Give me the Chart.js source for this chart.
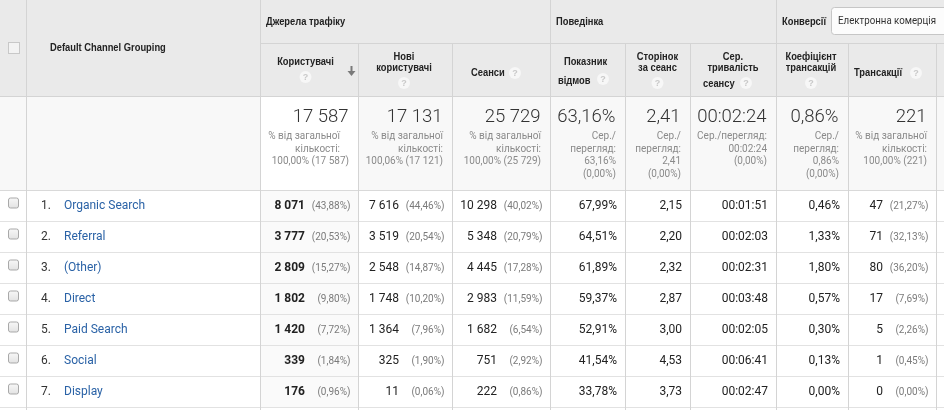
<!DOCTYPE html>
<html><head><meta charset="utf-8">
<script src="https://cdn.jsdelivr.net/npm/chart.js@4.4.1/dist/chart.umd.min.js"></script>
<style>html,body{margin:0;padding:0;background:#fff}#wrap{width:944px;height:410px;position:relative}</style>
</head><body><div id="wrap"><canvas id="c"></canvas></div>
<script>
// ---------- data ----------
const channels = ['Organic Search','Referral','(Other)','Direct','Paid Search','Social','Display'];
const users = [8071,3777,2809,1802,1420,339,176];
const usersPct = [43.88,20.53,15.27,9.80,7.72,1.84,0.96];
const newUsers = [7616,3519,2548,1748,1364,325,11];
const newUsersPct = [44.46,20.54,14.87,10.20,7.96,1.90,0.06];
const sessions = [10298,5348,4445,2983,1682,751,222];
const sessionsPct = [40.02,20.79,17.28,11.59,6.54,2.92,0.86];
const bounceRate = [67.99,64.51,61.89,59.37,52.91,41.54,33.78];
const pagesPerSession = [2.15,2.20,2.32,2.87,3.00,4.53,3.73];
const avgDurationSec = [111,123,151,228,125,401,167];
const txRate = [0.46,1.33,1.80,0.57,0.30,0.13,0.00];
const transactions = [47,71,80,17,5,1,0];
const transactionsPct = [21.27,32.13,36.20,7.69,2.26,0.45,0.00];

const totalUsers = 17587, totalNewUsers = 17131, totalSessions = 25729, totalTransactions = 221;
const totalBounce = 63.16, totalPages = 2.41, totalDurationSec = 144, totalTxRate = 0.86;
const totalSharePct = [100.00, 100.06, 100.00, 100.00];
const totalShareBase = [17587, 17121, 25729, 221];

const dimensionTitle = 'Default Channel Grouping';
const groupTitles = ['Джерела трафіку','Поведінка','Конверсії'];
const dropdownLabel = 'Електронна комерція';
const columnTitles = [['Користувачі'],['Нові','користувачі'],['Сеанси'],['Показник','відмов'],['Сторінок','за сеанс'],['Сер.','тривалість','сеансу'],['Коефіцієнт','трансакцій'],['Трансакції']];

// ---------- formatting ----------
const fInt = n => String(n).replace(/\B(?=(\d{3})+(?!\d))/g,' ');
const fDec = n => n.toFixed(2).replace('.',',');
const fPct = n => fDec(n)+'%';
const fDur = s => [Math.floor(s/3600),Math.floor(s%3600/60),s%60].map(v=>String(v).padStart(2,'0')).join(':');

// ---------- layout (column edges in x-scale units) ----------
const EDGES = [0,26,260,358,452,550,625,690,776,848,936,944];
const HEAD_FONT = 'bold 11px "Liberation Sans", Arial, sans-serif';
const HEAD_SQ = 0.85;
const RB = '"Roboto", "Liberation Sans", Arial, sans-serif';

function T(ctx,s,x,y,font,color,align,opt){
  opt = opt||{};
  ctx.font=font; ctx.fillStyle=color; ctx.textAlign=align||'left'; ctx.textBaseline='middle';
  if(opt.maxW){ ctx.fillText(s,x,y,opt.maxW); } else ctx.fillText(s,x,y);
}
function H(ctx,s,x,y,align){
  ctx.font=HEAD_FONT; const w=ctx.measureText(s).width*HEAD_SQ;
  let xl = x; if(align==='center') xl = x - w/2; else if(align==='right') xl = x - w;
  ctx.fillStyle='#222'; ctx.textAlign='left'; ctx.textBaseline='middle';
  ctx.fillText(s,xl,y,w);
}
function Q(ctx,x,y){
  ctx.beginPath(); ctx.arc(x,y,6,0,Math.PI*2); ctx.fillStyle='#f7f7f7'; ctx.fill();
  ctx.font='bold 9px Arial, sans-serif'; ctx.fillStyle='#c9c9c9'; ctx.textAlign='center'; ctx.textBaseline='middle';
  ctx.fillText('?',x,y+0.5);
}
function line(ctx,x1,y1,x2,y2,c){
  ctx.beginPath(); ctx.strokeStyle=c; ctx.lineWidth=1; ctx.moveTo(x1,y1); ctx.lineTo(x2,y2); ctx.stroke();
}

const tablePlugin = {
  id:'gaTable',
  afterDraw(chart){
    const ctx = chart.ctx, xs = chart.scales.x, ys = chart.scales.y;
    const X = v => Math.round(xs.getPixelForValue(v));
    const W = chart.width;
    const n = channels.length;
    const step = ys.height / n;
    const rowTop = i => ys.getPixelForValue(i) - step/2;
    const top = rowTop(0), bottom = rowTop(n-1)+step;
    ctx.save();
    // backgrounds
    ctx.fillStyle='#fff'; ctx.fillRect(0,0,W,chart.height);
    ctx.fillStyle='#eaeaea'; ctx.fillRect(0,0,W,96);
    ctx.fillStyle='#f8f8f8'; ctx.fillRect(0,96,W,top-96);
    ctx.fillStyle='#fff'; ctx.fillRect(X(EDGES[2]),96,X(EDGES[3])-X(EDGES[2]),top-96);
    ctx.fillStyle='#fafafa'; ctx.fillRect(X(EDGES[2]),top,X(EDGES[3])-X(EDGES[2]),bottom-top);

    // horizontal lines
    line(ctx,X(EDGES[2]),43.5,W,43.5,'#d4d4d4');
    line(ctx,0,96.5,W,96.5,'#d4d4d4');
    for(let i=0;i<=n;i++){ const y=Math.round(rowTop(i))+0.5; line(ctx,0,y,W,y,i===0?'#d9d9d9':'#e2e2e2'); }
    // vertical lines
    [1,2,5,8].forEach(k=>line(ctx,X(EDGES[k])+0.5,0,X(EDGES[k])+0.5,chart.height,'#d4d4d4'));
    [3,4,6,7,9,10].forEach(k=>line(ctx,X(EDGES[k])+0.5,43,X(EDGES[k])+0.5,chart.height,'#d4d4d4'));

    // header checkbox
    ctx.fillStyle='#f3f3f3'; ctx.fillRect(8.5,42.5,11,11); ctx.strokeStyle='#c8c8c8'; ctx.strokeRect(8.5,42.5,11,11);
    H(ctx,dimensionTitle,50,48,'left');
    // group titles
    H(ctx,groupTitles[0],X(EDGES[2])+6,22,'left');
    H(ctx,groupTitles[1],X(EDGES[5])+6,22,'left');
    H(ctx,groupTitles[2],X(EDGES[8])+6,22,'left');
    // dropdown
    ctx.beginPath(); ctx.roundRect(831.5,7.5,140,27,3); ctx.fillStyle='#fcfcfc'; ctx.fill(); ctx.strokeStyle='#c6c6c6'; ctx.stroke();
    T(ctx,dropdownLabel,838,21.5,'11.5px '+RB,'#333','left',{maxW:98});

    // sub headers
    const cx = k => (X(EDGES[k])+X(EDGES[k+1]))/2;
    const ct = columnTitles;
    H(ctx,ct[0][0],305.5,62,'center'); Q(ctx,305.5,77);
    // sort arrow
    ctx.fillStyle='#7a7a7a'; ctx.fillRect(350.5,66,2,6);
    ctx.beginPath(); ctx.moveTo(347.5,71); ctx.lineTo(355.5,71); ctx.lineTo(351.5,76); ctx.closePath(); ctx.fill();
    H(ctx,ct[1][0],cx(3)-1,57,'center'); H(ctx,ct[1][1],cx(3)-1,68,'center'); Q(ctx,cx(3)-1,83);
    H(ctx,ct[2][0],X(EDGES[4])+19,73,'left'); Q(ctx,X(EDGES[4])+63,73);
    H(ctx,ct[3][0],cx(5)-2,62,'center'); H(ctx,ct[3][1],X(EDGES[5])+8,81,'left'); Q(ctx,X(EDGES[5])+53,79);
    H(ctx,ct[4][0],cx(6),57,'center'); H(ctx,ct[4][1],cx(6),68,'center'); Q(ctx,cx(6),83);
    H(ctx,ct[5][0],cx(7),57,'center'); H(ctx,ct[5][1],cx(7),68,'center'); H(ctx,ct[5][2],X(EDGES[7])+13,84,'left'); Q(ctx,X(EDGES[7])+56,83);
    H(ctx,ct[6][0],cx(8)-1,57,'center'); H(ctx,ct[6][1],cx(8)-1,68,'center'); Q(ctx,cx(8)-1,83);
    H(ctx,ct[7][0],X(EDGES[9])+6,73,'left'); Q(ctx,X(EDGES[9])+68,73);

    // totals row
    const big = '300 18.5px '+RB, small = '10px '+RB, grey='#8a8a8a';
    const subY = [136.5,149,161.8,174.5];
    const totalsBig = [fInt(totalUsers),fInt(totalNewUsers),fInt(totalSessions),fPct(totalBounce),fDec(totalPages),fDur(totalDurationSec),fPct(totalTxRate),fInt(totalTransactions)];
    const share = i => ['% від загальної','кількості:',fPct(totalSharePct[i])+' ('+fInt(totalShareBase[i])+')'];
    const avg = v => ['Сер./','перегляд:',v,'(0,00%)'];
    const subs = [share(0),share(1),share(2),avg(fPct(totalBounce)),avg(fDec(totalPages)),['Сер./перегляд:',fDur(totalDurationSec),'(0,00%)'],avg(fPct(totalTxRate)),share(3)];
    for(let c=0;c<8;c++){
      const r = X(EDGES[c+3]);
      T(ctx,totalsBig[c],r-9.5,117.5,big,'#333','right');
      subs[c].forEach((s,j)=>{
        let rr = r-9;
        if(c===0 && j<2) rr = r-18;
        T(ctx,s,rr,subY[j],small,grey,'right');
      });
    }

    // data rows
    const reg = '12px '+RB, bold='bold 12px '+RB, pctF='10px '+RB, pctC='#7b7b7b';
    for(let i=0;i<n;i++){
      const yc = ys.getPixelForValue(i);
      // checkbox
      const g = ctx.createLinearGradient(0,yc-7,0,yc+3);
      g.addColorStop(0,'#f6f6f6'); g.addColorStop(1,'#e2e2e2');
      ctx.beginPath(); ctx.roundRect(8.5,yc-7.5,10,10,2); ctx.fillStyle=g; ctx.fill(); ctx.strokeStyle='#a9a9a9'; ctx.stroke();
      T(ctx,(i+1)+'.',41,yc,reg,'#333','left');
      T(ctx,channels[i],64,yc,reg,'#2a62a6','left');
      const pairs = [[fInt(users[i]),fPct(usersPct[i]),true],[fInt(newUsers[i]),fPct(newUsersPct[i])],[fInt(sessions[i]),fPct(sessionsPct[i])]];
      pairs.forEach((p,k)=>{
        const r = X(EDGES[k+3]);
        T(ctx,p[0],r-53,yc,p[2]?bold:reg,'#222','right');
        T(ctx,'('+p[1]+')',r-7.5,yc+0.5,pctF,pctC,'right');
      });
      T(ctx,fPct(bounceRate[i]),X(EDGES[6])-8,yc,reg,'#222','right');
      T(ctx,fDec(pagesPerSession[i]),X(EDGES[7])-8,yc,reg,'#222','right');
      T(ctx,fDur(avgDurationSec[i]),X(EDGES[8])-8,yc,reg,'#222','right');
      T(ctx,fPct(txRate[i]),X(EDGES[9])-8,yc,reg,'#222','right');
      T(ctx,fInt(transactions[i]),X(EDGES[10])-53,yc,reg,'#222','right');
      T(ctx,'('+fPct(transactionsPct[i])+')',X(EDGES[10])-7.5,yc+0.5,pctF,pctC,'right');
    }
    ctx.restore();
  }
};

new Chart(document.getElementById('c'),{
  type:'bar',
  data:{labels:channels,datasets:[]},
  options:{
    indexAxis:'y', responsive:true, maintainAspectRatio:false, animation:false,
    layout:{padding:{top:190,bottom:3,left:0,right:0}},
    plugins:{legend:{display:false},tooltip:{enabled:false}},
    scales:{
      x:{type:'linear',min:0,max:944,display:false},
      y:{type:'category',offset:true,display:false}
    }
  },
  plugins:[tablePlugin]
});
</script></body></html>
